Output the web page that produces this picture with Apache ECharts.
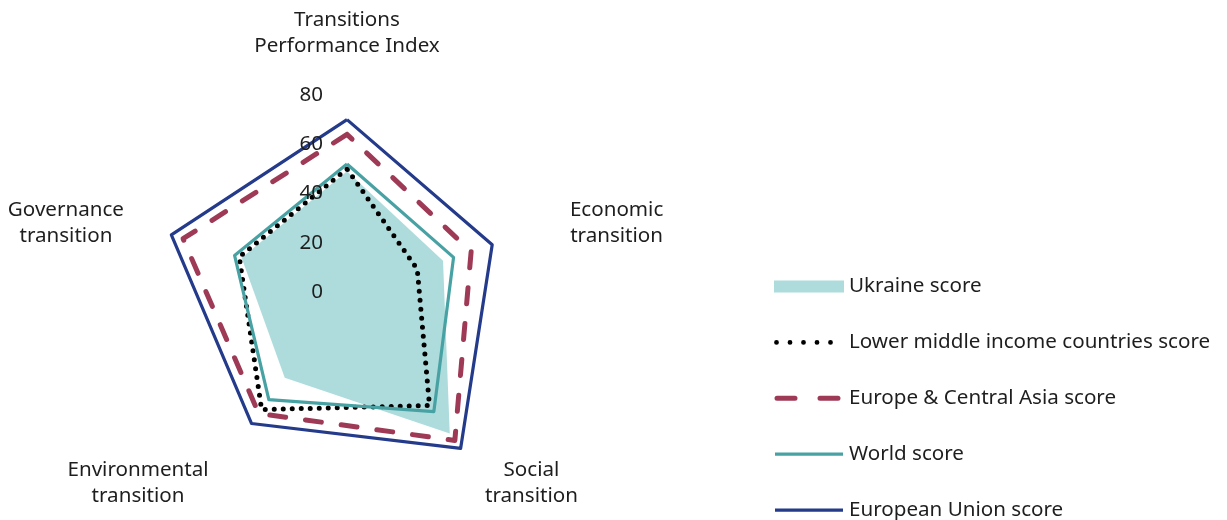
<!DOCTYPE html>
<html>
<head>
<meta charset="utf-8">
<script src="https://cdn.jsdelivr.net/npm/echarts@6.0.0/dist/echarts.min.js"></script>
<style>
  html, body { margin: 0; padding: 0; background: #fff; }
  #main { width: 1227px; height: 520px; }
</style>
</head>
<body>
<div id="main"></div>
<script>
// indicators in the order echarts lays them out (top, then counter-clockwise)
const indicatorNames = [
  'Transitions\nPerformance Index',
  'Governance\ntransition',
  'Environmental\ntransition',
  'Social\ntransition',
  'Economic\ntransition'
];
const axisMax = 80;

const seriesNames = [
  'Ukraine score',
  'Lower middle income countries score',
  'Europe & Central Asia score',
  'World score',
  'European Union score'
];
const ukraine = [49, 45, 43, 71, 41];
const lowerMiddle = [50, 46, 59, 57, 30];
const europeCA = [64, 70, 61, 74.5, 53];
const world = [52, 48, 54, 60, 45.5];
const eu = [70, 75, 66, 78.5, 62];

const FONT = '"Noto Sans", sans-serif';
const FONT_SIZE = 20.6;
const TEXT = '#1e1e1e';

let chart = null;

// measure the widest line of every indicator name, so each block can be centred
const measureCtx = document.createElement('canvas').getContext('2d');
measureCtx.font = FONT_SIZE + 'px ' + FONT;
const nameRich = {};
indicatorNames.forEach((n, i) => {
  const w = Math.max(...n.split('\n').map(l => measureCtx.measureText(l).width));
  nameRich['n' + i] = { width: Math.ceil(w) + 2, align: 'center', lineHeight: 26, fontSize: FONT_SIZE, fontFamily: FONT, color: TEXT };
});

function dotsIcon() {
  let d = 'M0,0 M70,12';
  [2.5, 16, 29.5, 43, 56.5].forEach(cx => {
    d += ' M' + (cx - 2.4) + ',6 A2.4,2.4 0 1,0 ' + (cx + 2.4) + ',6 A2.4,2.4 0 1,0 ' + (cx - 2.4) + ',6 Z';
  });
  return 'path://' + d;
}
const dashIcon = 'path://M0,0 M70,12 M3,3.5 L21,3.5 A2.5,2.5 0 0,1 21,8.5 L3,8.5 A2.5,2.5 0 0,1 3,3.5 Z M46,3.5 L64,3.5 A2.5,2.5 0 0,1 64,8.5 L46,8.5 A2.5,2.5 0 0,1 46,3.5 Z';
const lineIcon = 'path://M0,0 M70,12 M1,4.4 L69,4.4 L69,7.6 L1,7.6 Z';

function initChart() {
  chart = echarts.init(document.getElementById('main'), null, { renderer: 'canvas' });

  const indicators = indicatorNames.map((n, i) => {
    const ind = { name: n, min: 0, max: axisMax };
    if (i === 0) ind.axisLabel = { show: true };
    return ind;
  });

  const option = {
    animation: false,
    backgroundColor: '#fff',
    textStyle: { fontFamily: FONT },
    legend: {
      orient: 'vertical',
      left: 774,
      top: 276,
      height: 300,
      padding: 0,
      itemWidth: 70,
      itemHeight: 12,
      itemGap: 34.9,
      itemStyle: { borderWidth: 0 },
      lineStyle: { width: 0 },
      textStyle: { fontSize: FONT_SIZE, color: TEXT, fontFamily: FONT },
      data: [
        { name: seriesNames[0], icon: 'rect' },
        { name: seriesNames[1], icon: dotsIcon() },
        { name: seriesNames[2], icon: dashIcon },
        { name: seriesNames[3], icon: lineIcon },
        { name: seriesNames[4], icon: lineIcon }
      ]
    },
    radar: {
      z: 3,
      center: [347, 292],
      radius: 197,
      startAngle: 90,
      shape: 'polygon',
      splitNumber: 4,
      indicator: indicators,
      nameGap: 36,
      axisName: {
        color: TEXT,
        fontSize: FONT_SIZE,
        fontFamily: FONT,
        lineHeight: 26,
        padding: [6, 0, 0, 0],
        rich: nameRich,
        formatter: function (name) {
          const i = indicatorNames.indexOf(name);
          return name.split('\n').map(l => '{n' + i + '|' + l + '}').join('\n');
        }
      },
      axisLine: { show: false },
      axisTick: { show: false },
      splitLine: { show: false },
      splitArea: { show: false },
      axisLabel: { show: false, margin: 24, color: TEXT, fontSize: FONT_SIZE, fontFamily: FONT }
    },
    series: [{
      type: 'radar',
      symbol: 'none',
      data: [
        {
          name: seriesNames[0], value: ukraine,
          itemStyle: { color: '#aedcdc' },
          lineStyle: { width: 0 },
          areaStyle: { color: '#aedcdc', opacity: 1 }
        },
        {
          name: seriesNames[1], value: lowerMiddle,
          itemStyle: { color: '#000' },
          lineStyle: { color: '#000', width: 5, type: [0, 9], cap: 'round', join: 'round' }
        },
        {
          name: seriesNames[2], value: europeCA,
          itemStyle: { color: '#9e3a56' },
          lineStyle: { color: '#9e3a56', width: 5, type: [16, 20], cap: 'round', join: 'round' }
        },
        {
          name: seriesNames[3], value: world,
          itemStyle: { color: '#48a2a3' },
          lineStyle: { color: '#48a2a3', width: 3.2 }
        },
        {
          name: seriesNames[4], value: eu,
          itemStyle: { color: '#243a8a' },
          lineStyle: { color: '#243a8a', width: 3.2 }
        }
      ]
    }]
  };

  chart.setOption(option);
}

initChart();
</script>
</body>
</html>
